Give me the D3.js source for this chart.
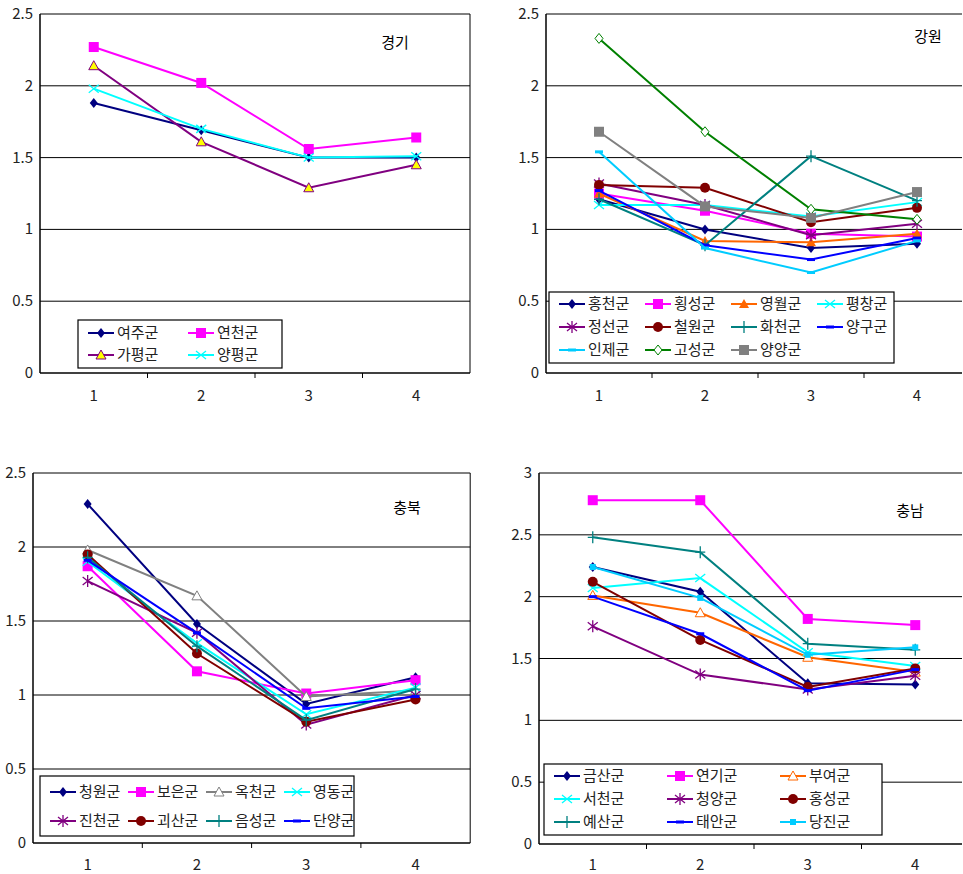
<!DOCTYPE html>
<html><head><meta charset="utf-8">
<script src="https://cdn.jsdelivr.net/npm/d3@7"></script>
<style>body{margin:0;background:#fff}svg{display:block}text{font-family:"Noto Sans CJK KR","Noto Sans",sans-serif}</style>
</head><body><svg id="c" width="963" height="874"></svg>
<script>
const xCats = ["1","2","3","4"];

// 경기
const ggNames = ["여주군","연천군","가평군","양평군"];
const ggVals = [[1.88,1.69,1.50,1.50],[2.27,2.02,1.56,1.64],[2.14,1.61,1.29,1.45],[1.98,1.70,1.50,1.51]];
const ggStyle = ["diamond|#000080","square|#ff00ff","triyellow|#800080","x|#00ffff"];

// 강원
const gwNames = ["홍천군","횡성군","영월군","평창군","정선군","철원군","화천군","양구군","인제군","고성군","양양군"];
const gwVals = [[1.21,1.00,0.87,0.90],[1.25,1.13,0.97,0.95],[1.25,0.92,0.91,0.97],[1.17,1.17,1.09,1.19],
  [1.32,1.17,0.96,1.04],[1.31,1.29,1.05,1.15],[1.21,0.89,1.51,1.20],[1.27,0.89,0.79,0.94],
  [1.54,0.87,0.70,0.92],[2.33,1.68,1.14,1.07],[1.68,1.16,1.08,1.26]];
const gwStyle = ["diamond|#000080","square|#ff00ff","tri|#ff6600","x|#00ffff","star|#800080","circle|#800000",
  "plus|#008080","dash|#0000ff","dash|#00ccff","odiamond|#008000","square|#808080"];

// 충북
const cbNames = ["청원군","보은군","옥천군","영동군","진천군","괴산군","음성군","단양군"];
const cbVals = [[2.29,1.48,0.94,1.12],[1.87,1.16,1.01,1.10],[1.98,1.67,0.99,1.03],[1.90,1.35,0.87,1.05],
  [1.77,1.42,0.80,1.00],[1.95,1.28,0.82,0.97],[1.93,1.33,0.83,1.04],[1.91,1.42,0.91,0.99]];
const cbStyle = ["diamond|#000080","square|#ff00ff","otri|#808080","x|#00ffff","star|#800080","circle|#800000","plus|#008080","dash|#0000ff"];

// 충남
const cnNames = ["금산군","연기군","부여군","서천군","청양군","홍성군","예산군","태안군","당진군"];
const cnVals = [[2.24,2.04,1.30,1.29],[2.78,2.78,1.82,1.77],[2.01,1.87,1.51,1.39],[2.07,2.15,1.55,1.44],
  [1.76,1.37,1.25,1.36],[2.12,1.65,1.27,1.42],[2.48,2.36,1.62,1.57],[2.00,1.70,1.24,1.41],[2.24,1.99,1.53,1.59]];
const cnStyle = ["diamond|#000080","square|#ff00ff","otri|#ff6600","x|#00ffff","star|#800080","circle|#800000","plus|#008080","dash|#0000ff","sq2|#00ccff"];

const svg = d3.select("#c");

function marker(g, kind, col, x, y) {
  const s = g.append("g").attr("transform", `translate(${x},${y})`);
  if (kind === "diamond") s.append("path").attr("d","M0,-5L4,0L0,5L-4,0Z").attr("fill",col);
  else if (kind === "odiamond") s.append("path").attr("d","M0,-5L4,0L0,5L-4,0Z").attr("fill","#fff").attr("stroke",col);
  else if (kind === "square") s.append("rect").attr("x",-5).attr("y",-5).attr("width",10).attr("height",10).attr("fill",col);
  else if (kind === "sq2") s.append("rect").attr("x",-3).attr("y",-3).attr("width",6).attr("height",6).attr("fill",col);
  else if (kind === "tri") s.append("path").attr("d","M0,-5L5,4L-5,4Z").attr("fill",col);
  else if (kind === "otri") s.append("path").attr("d","M0,-5L5,4L-5,4Z").attr("fill","#fff").attr("stroke",col);
  else if (kind === "triyellow") s.append("path").attr("d","M0,-5L5,4L-5,4Z").attr("fill","#ffff00").attr("stroke",col);
  else if (kind === "circle") s.append("circle").attr("r",5).attr("fill",col);
  else if (kind === "x") s.append("path").attr("d","M-5,-4L5,4M-5,4L5,-4").attr("stroke",col).attr("stroke-width",1.3);
  else if (kind === "plus") s.append("path").attr("d","M-5,0L5,0M0,-6L0,6").attr("stroke",col).attr("stroke-width",1.3);
  else if (kind === "star") s.append("path").attr("d","M-5,-4L5,4M-5,4L5,-4M0,-6L0,6").attr("stroke",col).attr("stroke-width",1.3);
  else if (kind === "dash") s.append("rect").attr("x",-4).attr("y",-1.5).attr("width",8).attr("height",3).attr("fill",col);
}

function panel(o) {
  const g = svg.append("g");
  const x = d3.scaleBand().domain(xCats).range([o.l, o.l + 4 * o.bw]);
  const y = d3.scaleLinear().domain([0, o.ymax]).range([o.b, o.t]);
  const ticks = d3.range(0, o.ymax + 0.01, 0.5);
  const right = Math.min(o.l + 4 * o.bw, 962);
  g.selectAll(".gl").data(ticks.slice(1)).join("line")
    .attr("x1", o.l).attr("x2", right).attr("y1", d => y(d)).attr("y2", d => y(d))
    .attr("stroke", "#000").attr("stroke-width", 1);
  g.append("line").attr("x1", o.l).attr("x2", o.l).attr("y1", o.t).attr("y2", o.b).attr("stroke","#000").attr("stroke-width",1.5);
  if (o.frame) g.append("line").attr("x1", right).attr("x2", right).attr("y1", o.t).attr("y2", o.b).attr("stroke","#000");
  g.append("line").attr("x1", o.l).attr("x2", right).attr("y1", o.b).attr("y2", o.b).attr("stroke","#000").attr("stroke-width",1.5);
  g.selectAll(".tk").data(xCats.slice(1)).join("line")
    .attr("x1", d => x(d)).attr("x2", d => x(d)).attr("y1", o.b).attr("y2", o.b + 5).attr("stroke","#000");
  g.selectAll(".yl").data(ticks).join("text")
    .attr("x", o.l - 7).attr("y", d => y(d) + 5).attr("text-anchor","end").attr("font-size",15).attr("fill","#222")
    .text(d => d3.format("")(d));
  g.selectAll(".xl").data(xCats).join("text")
    .attr("x", d => x(d) + x.bandwidth()/2).attr("y", Math.min(o.b + 28, 870)).attr("text-anchor","middle").attr("font-size",15).attr("fill","#222")
    .text(d => d);
  g.append("text").attr("x", o.tx).attr("y", o.ty).attr("font-size",15).attr("text-anchor","middle").text(o.title);
  const line = d3.line().x((d,i) => x(xCats[i]) + x.bandwidth()/2).y(d => y(d));
  o.vals.forEach((v, k) => {
    const [kind, col] = o.style[k].split("|");
    g.append("path").attr("d", line(v)).attr("fill","none").attr("stroke", col).attr("stroke-width", 2);
    v.forEach((d, i) => marker(g, kind, col, x(xCats[i]) + x.bandwidth()/2, y(d)));
  });
  // legend
  const L = o.leg;
  g.append("rect").attr("x", L.x).attr("y", L.y).attr("width", L.w).attr("height", L.h)
    .attr("fill","#fff").attr("stroke","#000").attr("stroke-width",1.2);
  o.names.forEach((n, k) => {
    const [kind, col] = o.style[k].split("|");
    const lx = L.x + 10 + (k % L.cols) * L.cw, ly = L.y + L.r0 + Math.floor(k / L.cols) * L.rh;
    g.append("line").attr("x1", lx).attr("x2", lx + 26).attr("y1", ly).attr("y2", ly).attr("stroke", col).attr("stroke-width",2);
    marker(g, kind, col, lx + 13, ly);
    g.append("text").attr("x", lx + 29).attr("y", ly + 5).attr("font-size",15).attr("fill","#222").text(n);
  });
}

panel({l:40,bw:107.5,t:14,b:373,ymax:2.5,frame:true,title:"경기",tx:395,ty:48,names:ggNames,vals:ggVals,style:ggStyle,
  leg:{x:78,y:320,w:204,h:48,cols:2,cw:100,r0:13,rh:22}});
panel({l:546,bw:106,t:14,b:373,ymax:2.5,frame:false,title:"강원",tx:928,ty:42,names:gwNames,vals:gwVals,style:gwStyle,
  leg:{x:549,y:292,w:345,h:71,cols:4,cw:86,r0:12,rh:23}});
panel({l:33,bw:109.3,t:473,b:843,ymax:2.5,frame:true,title:"충북",tx:407,ty:513,names:cbNames,vals:cbVals,style:cbStyle,
  leg:{x:40,y:776,w:314,h:60,cols:4,cw:78,r0:16,rh:29}});
panel({l:539,bw:107.5,t:473,b:844,ymax:3,frame:false,title:"충남",tx:910,ty:516,names:cnNames,vals:cnVals,style:cnStyle,
  leg:{x:544,y:764,w:338,h:71,cols:3,cw:113,r0:12,rh:23}});
</script></body></html>
